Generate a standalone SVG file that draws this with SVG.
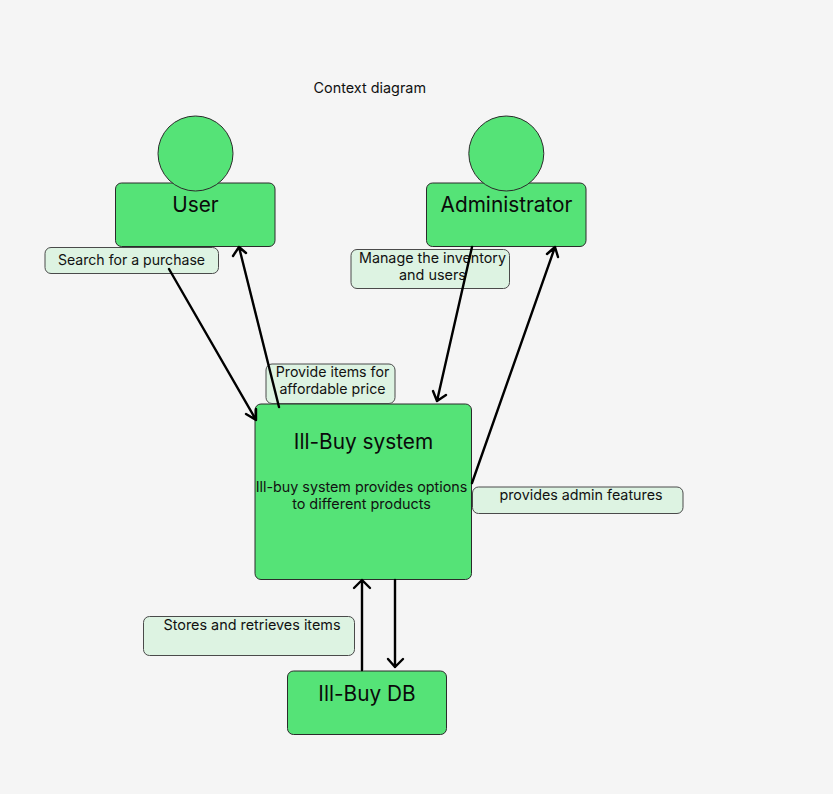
<svg xmlns="http://www.w3.org/2000/svg" width="833" height="794" viewBox="0 0 833 794">
<style>
.n{fill:#55e377;stroke:#2b2b2b;stroke-width:1}
.l{fill:#ddf3e2;stroke:#4a4a4a;stroke-width:1}
.big{font-family:Inter,"Liberation Sans",sans-serif;font-size:20.8px;fill:#0a0a0a;text-anchor:middle}
.sm{font-family:Inter,"Liberation Sans",sans-serif;font-size:14.4px;fill:#111;text-anchor:middle}
.c{fill:none;stroke:#000;stroke-width:2.4;stroke-linecap:round;stroke-linejoin:round}
</style>
<rect width="833" height="794" fill="#f5f5f5"/>
<text id="title" class="sm" x="369.800" y="92.500">Context diagram</text>
<g id="user"><rect class="n" x="115.500" y="183" width="159.500" height="63.500" rx="6"/><circle class="n" cx="195.500" cy="153.500" r="37.500"/><text class="big" x="195.500" y="212">User</text></g>
<g id="administrator"><rect class="n" x="426.500" y="183" width="159.500" height="63.500" rx="6"/><circle class="n" cx="506.300" cy="153.500" r="37.500"/><text class="big" x="506.500" y="212">Administrator</text></g>
<g id="system"><rect class="n" x="255" y="404" width="216.500" height="175.500" rx="6"/><text class="big" x="363.500" y="449">Ill-Buy system</text><text class="sm" x="361.500" y="491.500" style="font-size:14.3px">Ill-buy system provides options</text><text class="sm" x="361.500" y="508.500">to different products</text></g>
<g id="db"><rect class="n" x="287.500" y="671" width="159" height="63.500" rx="6"/><text class="big" x="367" y="700.500">Ill-Buy DB</text></g>
<g id="label-search"><rect class="l" x="45" y="247.500" width="173.500" height="26" rx="6"/><text class="sm" x="131.500" y="264.500" style="font-size:14.1px">Search for a purchase</text></g>
<g id="label-manage"><rect class="l" x="351" y="249.500" width="158.500" height="39" rx="6"/><text class="sm" x="432.500" y="263" style="font-size:14.3px">Manage the inventory</text><text class="sm" x="432.500" y="280">and users</text></g>
<g id="label-provide"><rect class="l" x="266" y="364" width="129" height="39.500" rx="6"/><text class="sm" x="332.500" y="377" style="font-size:14.2px">Provide items for</text><text class="sm" x="332.500" y="394" style="font-size:14.2px">affordable price</text></g>
<g id="label-admin"><rect class="l" x="472.500" y="487" width="210.500" height="26.500" rx="6"/><text class="sm" x="581" y="500" style="font-size:14.3px">provides admin features</text></g>
<g id="label-stores"><rect class="l" x="143.500" y="616.500" width="211" height="39" rx="6"/><text class="sm" x="252" y="629.500">Stores and retrieves items</text></g>
<g id="connectors">
<path class="c" d="M169 269L256 420M256 409L256 420L246 414"/>
<path class="c" d="M279 407L239 247M233 256L239 247L246 253"/>
<path class="c" d="M472 247L437 401M433 391L437 401L446 395"/>
<path class="c" d="M472 483L555 247M547 254L555 247L558 257"/>
<path class="c" d="M362 670L362 580M354 588L362 580L370 588"/>
<path class="c" d="M395 580L395 667M388 659L395 667L403 659"/>
</g>
</svg>
